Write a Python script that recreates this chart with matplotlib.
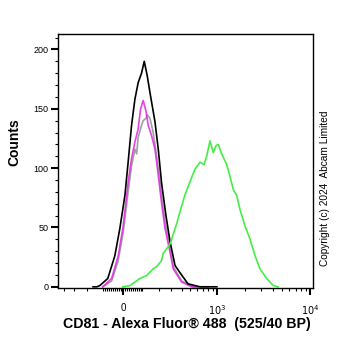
import numpy as np
import matplotlib
matplotlib.use("Agg")
import matplotlib.pyplot as plt
from matplotlib.ticker import FixedLocator, NullFormatter

plt.rcParams['font.family'] = ['Liberation Sans', 'DejaVu Sans']

# fluorescence values (a.u.) and counts
black_x = [-160, -137, -120, -76, -40, -15, 10, 26, 43, 60, 77, 95, 110, 127, 143,
           175, 197, 220, 254, 288, 333, 382, 476, 652, 1000]
black_y = [0, 0, 1, 7, 26, 49, 77, 105, 136, 158, 172, 180, 190, 178, 164,
           139, 116, 88, 60, 38, 18, 12, 2.5, 0, 0]

magenta_x = [-103, -56, -23, 1.5, 26, 43, 60, 77, 90, 104, 120, 133, 154, 175,
             197, 220, 247, 288, 317, 401, 525, 800]
magenta_y = [0, 7, 26, 51, 88, 108, 122, 133, 150, 157, 148, 136, 127, 116,
             94, 71, 49, 29, 15, 4, 0, 0]

gray_x = [-103, -56, -23, 1.5, 26, 43, 60, 69, 77, 95, 104, 120, 127, 143, 162,
          175, 197, 220, 247, 288, 317, 401, 543, 800]
gray_y = [0, 5, 22, 46, 80, 102, 116, 112, 126, 136, 140, 142, 145, 142, 131,
          120, 100, 77, 55, 32, 17, 5, 0, 0]

green_x = [0, 35, 69, 86, 124, 162, 186, 220, 232, 288, 333, 352, 382, 437, 498,
           572, 652, 722, 773, 841, 914, 978, 1036, 1128, 1278, 1387, 1506, 1638,
           1780, 2018, 2282, 2582, 2920, 3440, 4052, 4549]
green_y = [0, 1, 5, 7, 9.5, 15, 17, 22, 28, 36, 49, 54, 63, 77, 88,
           99, 105, 103, 110, 123, 113, 119, 120, 112, 103, 93, 82, 77,
           65, 51, 40, 26, 15, 7, 1, 0]

major_x = [0, 1000, 10000]
major_labels = ['0', r'$10^3$', r'$10^4$']
minor_x = ([-400, -300, -200, -100] + list(range(-90, 0, 10)) + list(range(10, 100, 10))
           + list(range(100, 1000, 100)) + list(range(2000, 10000, 1000)))


def fwd(v):
    return np.arcsinh(np.asarray(v) / 200.0)


def inv(v):
    return 200.0 * np.sinh(np.asarray(v))


fig = plt.figure(figsize=(3.62, 3.51), dpi=100)
ax = fig.add_axes([0.160, 0.1795, 0.705, 0.7235])
ax.set_xscale('function', functions=(fwd, inv))

ax.plot(gray_x, gray_y, color='#a0a0a0', lw=1.2)
ax.plot(magenta_x, magenta_y, color='#e030e0', lw=1.2, alpha=0.9)
ax.plot(black_x, black_y, color='black', lw=1.2)
ax.plot(green_x, green_y, color='#44ee44', lw=1.2)

ax.set_xlim(-474, 10780)
ax.set_ylim(-1, 213)

ax.xaxis.set_major_locator(FixedLocator(major_x))
ax.set_xticklabels(major_labels)
ax.xaxis.set_minor_locator(FixedLocator(minor_x))
ax.xaxis.set_minor_formatter(NullFormatter())
ax.yaxis.set_major_locator(FixedLocator([0, 50, 100, 150, 200]))
ax.yaxis.set_minor_locator(FixedLocator(list(range(10, 211, 10))))

ax.tick_params(which='major', length=5, width=1.5, labelsize=6.5, pad=2)
ax.tick_params(which='minor', length=2.5, width=0.8)
ax.tick_params(axis='x', which='major', pad=6, labelsize=7)
for s in ax.spines.values():
    s.set_linewidth(1.0)

ax.set_xlabel('CD81 - Alexa Fluor® 488  (525/40 BP)', fontsize=10.2, fontweight='bold', va='center')
ax.xaxis.set_label_coords(0.506, -0.14)
ax.set_ylabel('Counts', fontsize=10, fontweight='bold', va='center')
ax.yaxis.set_label_coords(-0.169, 0.575)

fig.text(0.898, 0.464, 'Copyright (c) 2024  Abcam Limited', rotation=90,
         ha='center', va='center', fontsize=7.3)

fig.savefig('out.png', dpi=100)
